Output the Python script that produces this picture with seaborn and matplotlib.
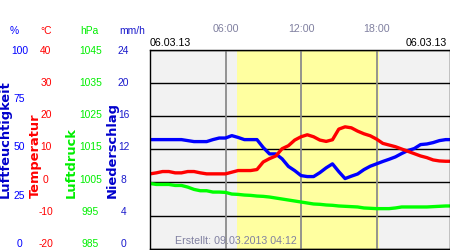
import matplotlib
matplotlib.use('Agg')
import matplotlib.pyplot as plt
import seaborn as sns
import pandas as pd

# ---- data ----
hours = [0, 0.5, 1, 1.5, 2, 2.5, 3, 3.5, 4, 4.5, 5, 5.5, 6, 6.5, 7, 7.5, 8, 8.5,
         9, 9.5, 10, 10.5, 11, 11.5, 12, 12.5, 13, 13.5, 14, 14.5, 15, 15.5, 16,
         16.5, 17, 17.5, 18, 18.5, 19, 19.5, 20, 20.5, 21, 21.5, 22, 22.5, 23,
         23.5, 23.8]
humidity = [54.9, 54.9, 54.9, 54.9, 54.9, 54.9, 54.4, 53.9, 53.9, 53.9, 54.9,
            55.7, 55.7, 56.9, 56.0, 54.9, 54.9, 54.9, 50.9, 47.7, 47.7, 45.2,
            41.4, 39.3, 36.8, 36.3, 36.3, 38.3, 40.7, 42.7, 38.8, 35.3, 36.5,
            37.6, 39.8, 41.5, 42.7, 43.9, 45.0, 46.2, 47.9, 49.4, 50.4, 52.4,
            52.7, 53.4, 54.4, 54.9, 54.9]
temperature = [2.6, 2.9, 3.3, 3.3, 2.9, 2.9, 3.3, 3.3, 2.9, 2.6, 2.6, 2.6, 2.6,
               3.1, 3.6, 3.6, 3.6, 3.9, 6.2, 7.2, 8.0, 10.2, 11.1, 12.8, 13.8,
               14.4, 13.8, 12.8, 12.4, 12.9, 16.1, 16.8, 16.5, 15.5, 14.7, 14.1,
               13.1, 11.8, 11.3, 10.8, 10.1, 9.4, 8.7, 8.0, 7.5, 6.8, 6.5, 6.4,
               6.4]
pressure = [1004.7, 1004.4, 1004.4, 1004.4, 1004.1, 1004.1, 1003.6, 1002.9,
            1002.5, 1002.5, 1002.1, 1002.1, 1002.0, 1001.5, 1001.4, 1001.2,
            1001.1, 1000.9, 1000.8, 1000.6, 1000.3, 1000.0, 999.7, 999.4,
            999.1, 998.8, 998.5, 998.4, 998.2, 998.1, 997.9, 997.8, 997.7,
            997.6, 997.3, 997.2, 997.1, 997.1, 997.1, 997.3, 997.6, 997.6,
            997.6, 997.6, 997.6, 997.7, 997.8, 997.9, 997.9]

hum_ticks = [0, 25, 50, 75, 100]
temp_ticks = [-20, -10, 0, 10, 20, 30, 40]
press_ticks = [985, 995, 1005, 1015, 1025, 1035, 1045]
rain_ticks = [0, 4, 8, 12, 16, 20, 24]
time_ticks = [6, 12, 18]
time_labels = ['06:00', '12:00', '18:00']
daylight = (6.88, 18.16)
date_label = '06.03.13'
created_label = 'Erstellt: 09.03.2013 04:12'

df = pd.DataFrame({'hours': hours, 'humidity': humidity,
                   'temperature': temperature, 'pressure': pressure})

# ---- style ----
sns.set_theme(style='white')
plt.rcParams['font.family'] = ['Liberation Sans', 'DejaVu Sans']

C_HUM = '#0000ff'
C_TEMP = '#ff0000'
C_PRESS = '#00ee00'
C_RAIN = '#1a1acc'
C_GREY = '#8080a0'

fig = plt.figure(figsize=(4.5, 2.5), dpi=100)
TOP_PX, BOT_PX = 50, 248.7
L, B = 150 / 450, (250 - BOT_PX) / 250
W, H = 299.5 / 450, (BOT_PX - TOP_PX) / 250
ax = fig.add_axes([L, B, W, H])      # temperature data + frame
axp = ax.twinx()                      # pressure data, background, grid
axh = ax.twinx()                      # humidity data
# label-only scales (labels in the reference sit on a slightly shorter span)
LABEL_BOTTOM_PX = 243
ax_tl = ax.twinx()
ax_hl = ax.twinx()
ax_pl = ax.twinx()
ax_rl = ax.twinx()

axp.set_zorder(0)
axh.set_zorder(1)
ax.set_zorder(2)
for i, a in enumerate((ax_tl, ax_hl, ax_pl, ax_rl)):
    a.set_zorder(3 + i)
ax.patch.set_visible(False)
axp.patch.set_visible(True)
axp.patch.set_facecolor('#f2f2f2')

# background, day span, grid
axp.axvspan(*daylight, color='#ffffa0', lw=0, zorder=0.5)
for t in time_ticks:
    axp.axvline(t, color='#8c8c8c', lw=1.3, zorder=1.2)
axp.set_yticks(press_ticks)
axp.yaxis.grid(True, color='black', lw=1.0)
axp.xaxis.grid(False)
axp.tick_params(axis='y', length=0, labelright=False, labelleft=False)

# lines
sns.lineplot(data=df, x='hours', y='pressure', ax=axp, color='#00ff00', lw=2.4)
sns.lineplot(data=df, x='hours', y='humidity', ax=axh, color=C_HUM, lw=2.4)
sns.lineplot(data=df, x='hours', y='temperature', ax=ax, color=C_TEMP, lw=2.4)

all_axes = (ax, axp, axh, ax_tl, ax_hl, ax_pl, ax_rl)
for a in all_axes:
    a.set_xlim(0, 23.8)
    a.set_xlabel('')
    a.set_ylabel('')
    for s in a.spines.values():
        s.set_visible(False)

ax.set_ylim(-20, 40)
axp.set_ylim(985, 1045)
axh.set_ylim(0, 100)
ax.tick_params(axis='y', length=0, labelleft=False, labelright=False)
axh.tick_params(axis='y', length=0, labelleft=False, labelright=False)

for s in ax.spines.values():
    s.set_visible(True)
    s.set_color('black')
    s.set_linewidth(1.0)

ext = (BOT_PX - LABEL_BOTTOM_PX) / (LABEL_BOTTOM_PX - TOP_PX)

def label_axis(a, ticks, color, pad):
    lo, hi = ticks[0], ticks[-1]
    a.set_ylim(lo - (hi - lo) * ext, hi)
    a.yaxis.set_ticks_position('left')
    a.set_yticks(ticks)
    a.set_yticklabels([str(v) for v in ticks], ha='center')
    a.tick_params(axis='y', length=0, pad=pad, labelcolor=color, labelsize=7.4)

label_axis(ax_tl, temp_ticks, C_TEMP, 74.9)
label_axis(ax_hl, hum_ticks, C_HUM, 94.0)
label_axis(ax_pl, press_ticks, C_PRESS, 42.8)
label_axis(ax_rl, rain_ticks, C_RAIN, 19.1)

# time labels on top
ax.xaxis.set_ticks_position('top')
ax.set_xticks(time_ticks)
ax.set_xticklabels(time_labels)
ax.tick_params(axis='x', length=0, pad=11.5, labelcolor=C_GREY, labelsize=7.7)

# header units
hy = 1 - 31 / 250
fig.text(14 / 450, hy, '%', color=C_HUM, ha='center', va='center', fontsize=7.4)
fig.text(46 / 450, hy, '°C', color=C_TEMP, ha='center', va='center', fontsize=7.4)
fig.text(89 / 450, hy, 'hPa', color=C_PRESS, ha='center', va='center', fontsize=7.4)
fig.text(132.5 / 450, hy, 'mm/h', color=C_RAIN, ha='center', va='center', fontsize=7.4)

# rotated axis titles
ry = 52 / 250
for xc, txt, col in [(5.5, 'Luftfeuchtigkeit', '#0000cc'), (35, 'Temperatur', C_TEMP),
                     (71.7, 'Luftdruck', '#00ee00'), (112, 'Niederschlag', '#0000cc')]:
    fig.text(xc / 450, ry, txt, rotation=90, ha='center', va='bottom', color=col,
             fontsize=9.4, fontweight='bold', family=['DejaVu Sans'])

# dates and creation stamp
dy = 1 - 43 / 250
fig.text(150 / 450, dy, date_label, ha='left', va='center', fontsize=7.7, color='black')
fig.text(447 / 450, dy, date_label, ha='right', va='center', fontsize=7.7, color='black')
fig.text(236 / 450, 1 - 241 / 250, created_label, ha='center', va='center',
         fontsize=7.7, color=C_GREY)

fig.savefig('out.png', dpi=100)
